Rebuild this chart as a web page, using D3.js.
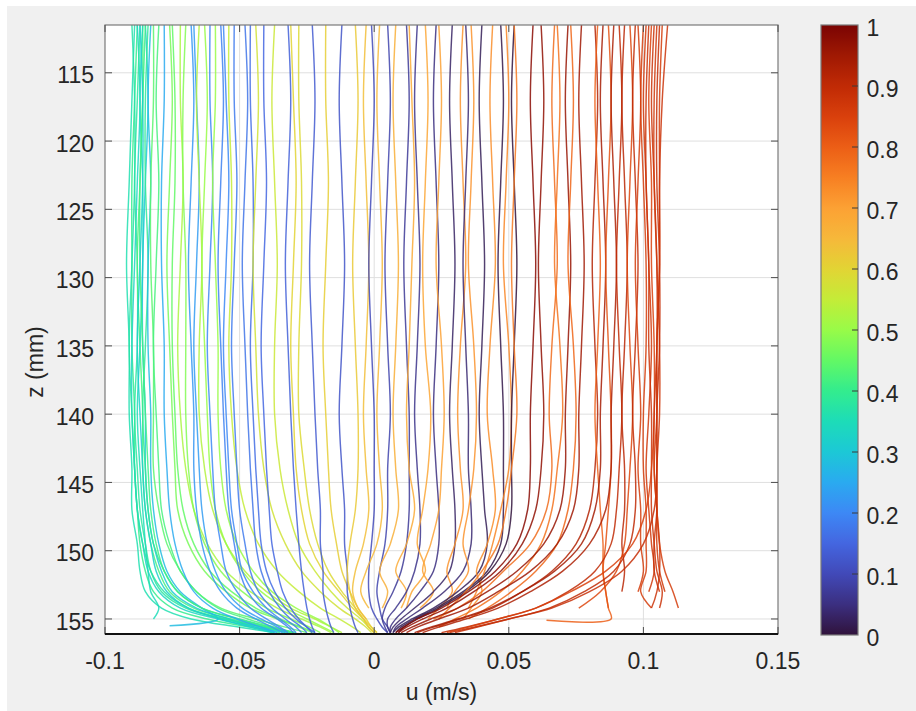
<!DOCTYPE html>
<html>
<head>
<meta charset="utf-8">
<script src="https://cdn.jsdelivr.net/npm/d3@7"></script>
<style>
  html, body { margin: 0; padding: 0; background: #ffffff; }
  svg text { font-family: "Liberation Sans", Arial, Helvetica, sans-serif; fill: #262626; }
</style>
</head>
<body>
<svg id="fig" width="916" height="711"></svg>
<script>
// Depth levels (mm) at which every velocity profile is sampled
const zLevels = [111.5, 117, 123, 129, 135, 140, 144, 147, 149.5, 151.5, 153, 154.2, 155, 155.6, 156];

// Phase of each profile (colour value on the 0–1 colour bar)
const phases = [
  0.36, 0.40, 0.33, 0.38, 0.42, 0.35, 0.30, 0.39, 0.28, 0.44, 0.37, 0.41, 0.32,
  0.42, 0.25, 0.47, 0.45, 0.52, 0.48, 0.22, 0.23, 0.53, 0.50, 0.20, 0.50, 0.19,
  0.20, 0.55, 0.18, 0.17, 0.16, 0.57, 0.15, 0.56, 0.14, 0.60, 0.59, 0.13, 0.61,
  0.12, 0.62, 0.64, 0.10, 0.65, 0.09, 0.67, 0.07, 0.68, 0.06, 0.69, 0.05, 0.70,
  0.03, 0.72, 0.04, 0.72, 0.02, 0.73, 0.01, 0.74, 0.00, 0.76, 0.98, 0.97, 0.78,
  0.77, 0.96, 0.79, 0.95, 0.92, 0.80, 0.94, 0.82, 0.93, 0.90, 0.91, 0.84, 0.90,
  0.86, 0.86, 0.87, 0.88, 0.85, 0.88, 0.87, 0.89, 0.86, 0.88
];

// Streamwise velocity u (mm/s) of each profile at zLevels; null where the record stops
const uProfiles = [
  [-89,-90,-91,-92,-91,-91,-90,-90,-88,-87,-85,-79,-68,-50,-37],
  [-88,-89,-90,-90,-90,-89,-89,-88,-87,-85,-82,-75,-62,-46,-35],
  [-88,-87,-88,-89,-90,-90,-89,-88,-86,-84,-80,-72,-58,-44,-33],
  [-87,-88,-89,-88,-88,-89,-88,-87,-85,-83,-79,-70,-56,-42,-32],
  [-86,-86,-87,-88,-87,-86,-86,-85,-83,-80,-76,-67,-53,-40,-30],
  [-86,-87,-86,-86,-87,-88,-87,-86,-85,-84,-83,-80,-82,null,null],
  [-85,-84,-85,-86,-86,-85,-85,-84,-82,-79,-75,-66,-54,-44,-37],
  [-84,-85,-85,-84,-85,-86,-85,-84,-82,-78,-73,-64,-50,-38,-29],
  [-83,-84,-83,-84,-84,-83,-83,-82,-80,-77,-72,-64,-58,null,null],
  [-82,-82,-83,-83,-82,-82,-82,-80,-77,-72,-66,-57,-44,-33,-25],
  [-90,-89,-89,-90,-91,-90,-89,-88,-86,-83,-78,-69,-55,-41,-31],
  [-85,-86,-87,-87,-86,-85,-84,-83,-81,-78,-73,-64,-51,-39,-30],
  [-87,-86,-86,-87,-88,-87,-86,-85,-83,-81,-77,-69,-57,-46,-38],
  [-80,-81,-80,-81,-82,-81,-80,-79,-76,-72,-66,-58,-47,-37,-30],
  [-78,-78,-79,-79,-78,-78,-77,-76,-74,-71,-67,-60,-51,-42,-36],
  [-76,-75,-76,-77,-76,-75,-74,-73,-69,-63,-55,-46,-36,-28,-23],
  [-75,-74,-74,-75,-75,-74,-73,-71,-67,-61,-53,-44,-35,-27,-22],
  [-72,-72,-71,-72,-73,-72,-70,-67,-62,-55,-46,-36,-27,-20,-16],
  [-70,-71,-71,-70,-70,-70,-69,-67,-63,-57,-49,-40,-31,-24,-20],
  [-68,-67,-68,-69,-68,-67,-67,-66,-64,-61,-57,-51,-44,-38,-34],
  [-67,-66,-65,-66,-67,-66,-65,-64,-62,-59,-55,-49,-42,-36,-33],
  [-65,-66,-65,-64,-65,-65,-63,-60,-55,-48,-40,-31,-22,-16,-12],
  [-63,-62,-63,-64,-63,-62,-61,-59,-55,-49,-42,-33,-25,-19,-15],
  [-61,-61,-60,-61,-62,-61,-60,-59,-57,-55,-51,-46,-40,-35,-32],
  [-59,-59,-60,-59,-58,-58,-57,-55,-51,-45,-38,-29,-21,-16,-13],
  [-57,-56,-57,-58,-57,-56,-55,-54,-52,-50,-47,-42,-36,-32,-30],
  [-56,-55,-54,-55,-56,-55,-54,-53,-51,-49,-45,-40,-35,-31,-29],
  [-54,-54,-53,-53,-54,-53,-51,-48,-43,-36,-28,-20,-13,-8,-5],
  [-52,-52,-51,-52,-53,-52,-51,-50,-48,-46,-43,-38,-33,-29,-27],
  [-48,-47,-48,-49,-48,-47,-46,-45,-44,-42,-39,-35,-31,-27,-25],
  [-46,-46,-45,-45,-46,-45,-44,-43,-42,-40,-37,-33,-29,-25,-22],
  [-44,-43,-44,-45,-44,-43,-41,-38,-33,-27,-20,-13,-7,-3,-1],
  [-41,-41,-40,-41,-42,-41,-40,-39,-38,-36,-34,-31,-28,-25,-23],
  [-37,-38,-37,-36,-37,-37,-35,-32,-28,-22,-16,-10,-5,-2,0],
  [-32,-31,-32,-33,-32,-31,-30,-29,-28,-27,-26,-25,-24,-23,-22],
  [-31,-30,-29,-30,-31,-30,-29,-27,-24,-19,-13,-8,-4,-1,1],
  [-28,-28,-27,-27,-28,-28,-26,-24,-21,-17,-12,-7,-4,-2,0],
  [-23,-22,-23,-24,-23,-22,-21,-20,-20,-19,-19,-18,-17,-16,-15],
  [-18,-18,-17,-18,-19,-18,-17,-16,-14,-12,-9,-6,-3,-1,1],
  [-12,-13,-12,-11,-12,-13,-12,-11,-11,-10,-10,-9,-8,-7,-6],
  [-7,-6,-7,-8,-7,-6,-6,-7,-9,-10,-9,-7,-4,-2,0],
  [-3,-4,-3,-2,-3,-4,-3,-2,-4,-7,-8,-6,-3,null,null],
  [-1,0,-1,-2,-1,0,0,0,-1,-2,-2,-1,1,3,5],
  [2,1,2,3,2,1,2,3,1,-3,-5,-2,null,null,null],
  [5,6,5,4,5,6,5,5,4,2,1,2,3,5,6],
  [8,7,8,9,8,7,8,9,6,2,5,3,null,null,null],
  [12,13,12,11,12,13,13,13,12,10,7,4,3,4,5],
  [13,14,15,14,13,12,13,15,12,8,12,10,null,null,null],
  [16,15,16,17,16,15,16,17,17,15,12,8,5,5,6],
  [19,20,19,18,19,21,20,18,16,19,14,12,null,null,null],
  [23,22,23,24,23,22,23,24,24,22,17,12,8,6,6],
  [24,25,24,23,25,26,25,24,21,18,22,17,null,null,null],
  [29,28,29,30,29,28,29,30,30,28,22,15,10,7,6],
  [33,32,33,34,32,31,32,33,30,27,29,24,20,null,null],
  [34,35,34,33,34,35,35,36,36,33,26,18,12,8,7],
  [36,37,36,35,37,38,37,35,33,35,30,27,null,null,null],
  [40,39,40,41,40,39,40,41,42,39,31,22,14,9,7],
  [44,43,44,45,43,42,44,45,42,38,40,36,33,null,null],
  [47,48,47,46,47,48,48,48,47,42,33,23,15,10,8],
  [49,50,49,48,50,51,50,47,44,41,38,35,null,null,null],
  [52,51,52,53,52,51,51,51,49,43,34,24,16,11,9],
  [52,53,52,51,52,53,51,49,46,40,34,28,24,null,null],
  [59,58,59,60,59,58,58,57,53,45,35,25,16,11,8],
  [62,63,62,61,62,63,62,60,55,47,37,27,18,12,9],
  [67,66,67,68,66,65,66,64,58,48,40,31,22,null,null],
  [68,69,68,67,69,70,68,66,62,55,47,38,30,24,null],
  [72,71,72,73,72,71,71,69,63,53,42,31,21,14,10],
  [73,74,73,72,74,75,74,72,68,60,51,42,35,null,null],
  [77,76,77,78,77,76,76,74,68,58,46,35,24,16,12],
  [82,83,82,81,82,83,82,80,75,66,55,44,32,22,16],
  [83,82,83,84,83,82,83,84,85,85,86,87,88,null,null],
  [85,84,85,86,85,84,84,82,77,67,55,43,31,21,15],
  [87,88,87,86,87,88,88,87,86,85,86,87,null,null,null],
  [89,88,89,90,89,88,88,86,80,70,58,46,34,24,18],
  [91,92,91,90,91,92,91,90,88,82,72,60,46,34,25],
  [93,92,93,94,93,92,93,93,92,93,92,null,null,null,null],
  [95,96,95,94,95,96,95,94,93,90,84,76,null,null,null],
  [97,96,97,98,97,96,97,97,95,89,78,65,50,37,28],
  [98,99,98,97,98,99,98,99,99,100,98,null,null,null,null],
  [100,99,100,101,101,100,100,101,101,101,99,103,null,null,null],
  [101,100,101,102,103,102,101,102,103,104,102,null,null,null,null],
  [102,101,101,102,102,103,103,103,104,105,107,106,null,null,null],
  [103,102,103,103,104,104,103,101,96,86,73,60,46,35,27],
  [104,103,104,105,105,104,104,105,106,106,105,103,null,null,null],
  [105,104,104,105,106,106,105,105,105,106,108,null,null,null,null],
  [106,105,105,106,106,105,105,104,100,92,80,66,50,38,30],
  [107,106,106,106,105,105,104,105,106,108,111,113,null,null,null],
  [109,107,106,106,105,105,105,105,104,104,106,null,null,null,null]
];

// Extra points that close a few records near the bed: [profile index, z (mm), u (mm/s)]
const tailPoints = [
  [8, 155.5, -76],
  [70, 155.1, 64]
];

// Axis ticks and labels
const xTicks = [-0.1, -0.05, 0, 0.05, 0.1, 0.15];
const xTickLabels = ["-0.1", "-0.05", "0", "0.05", "0.1", "0.15"];
const zTicks = [115, 120, 125, 130, 135, 140, 145, 150, 155];
const zTickLabels = ["115", "120", "125", "130", "135", "140", "145", "150", "155"];
const cbTicks = [0, 0.1, 0.2, 0.3, 0.4, 0.5, 0.6, 0.7, 0.8, 0.9, 1];
const cbTickLabels = ["0", "0.1", "0.2", "0.3", "0.4", "0.5", "0.6", "0.7", "0.8", "0.9", "1"];

// Colour map, equally spaced from 0 to 1
const cmapStops = [
  "#30123b", "#3b2f80", "#4149b8", "#4466e0", "#3d88f5", "#2aaaf0", "#1cc8d6",
  "#1ddcb8", "#33ec8e", "#62f865", "#98fb48", "#c4ec38", "#e2d434", "#f6b83a",
  "#fca134", "#f77f22", "#ec5e16", "#d9400c", "#c02a05", "#a01903", "#7a0403"
];

const W = 916, H = 711;
const plot = { l: 105, t: 25, r: 778, b: 634 };
const cb = { l: 821, r: 858, t: 25, b: 635 };
const FONT = 23;

const svg = d3.select("#fig");

// figure background
svg.append("rect").attr("width", W).attr("height", H).attr("fill", "#ffffff");
svg.append("rect").attr("x", 7).attr("y", 6).attr("width", W - 7).attr("height", H - 6).attr("fill", "#f0f0f0");

const x = d3.scaleLinear().domain([-0.1, 0.15]).range([plot.l, plot.r]);
const y = d3.scaleLinear().domain([111.5, 156.1]).range([plot.t, plot.b]);
const colour = d3.piecewise(d3.interpolateRgb, cmapStops);

// axes background
svg.append("rect")
  .attr("x", plot.l).attr("y", plot.t)
  .attr("width", plot.r - plot.l).attr("height", plot.b - plot.t)
  .attr("fill", "#ffffff");

// grid
const grid = svg.append("g").attr("stroke", "#dfdfdf").attr("stroke-width", 1);
grid.selectAll("line.gx").data(xTicks.slice(1, -1)).join("line")
  .attr("x1", d => x(d)).attr("x2", d => x(d))
  .attr("y1", plot.t).attr("y2", plot.b);
grid.selectAll("line.gy").data(zTicks).join("line")
  .attr("x1", plot.l).attr("x2", plot.r)
  .attr("y1", d => y(d)).attr("y2", d => y(d));

// velocity profiles
svg.append("clipPath").attr("id", "plotClip")
  .append("rect")
  .attr("x", plot.l).attr("y", plot.t)
  .attr("width", plot.r - plot.l).attr("height", plot.b - plot.t);

const profiles = uProfiles.map((row, i) => {
  const pts = [];
  row.forEach((u, k) => { if (u !== null) pts.push({ z: zLevels[k], u: u / 1000 }); });
  tailPoints.filter(t => t[0] === i).forEach(t => pts.push({ z: t[1], u: t[2] / 1000 }));
  return { phase: phases[i], pts };
});

const line = d3.line()
  .x(d => x(d.u))
  .y(d => y(d.z))
  .curve(d3.curveCatmullRom.alpha(0.5));

svg.append("g").attr("clip-path", "url(#plotClip)")
  .selectAll("path").data(profiles).join("path")
  .attr("d", d => line(d.pts))
  .attr("fill", "none")
  .attr("stroke", d => colour(d.phase))
  .attr("stroke-width", 1.45)
  .attr("stroke-opacity", 0.85)
  .attr("stroke-linejoin", "round");

// axes box
svg.append("rect")
  .attr("x", plot.l).attr("y", plot.t)
  .attr("width", plot.r - plot.l).attr("height", plot.b - plot.t)
  .attr("fill", "none").attr("stroke", "#7a7a7a").attr("stroke-width", 1.2);

// ticks on all four sides (pointing inward)
const TL = 7;
const ticks = svg.append("g").attr("stroke", "#4d4d4d").attr("stroke-width", 1);
xTicks.forEach(v => {
  ticks.append("line").attr("x1", x(v)).attr("x2", x(v)).attr("y1", plot.b).attr("y2", plot.b - TL);
  ticks.append("line").attr("x1", x(v)).attr("x2", x(v)).attr("y1", plot.t).attr("y2", plot.t + TL);
});
zTicks.forEach(v => {
  ticks.append("line").attr("x1", plot.l).attr("x2", plot.l + TL).attr("y1", y(v)).attr("y2", y(v));
  ticks.append("line").attr("x1", plot.r).attr("x2", plot.r - TL).attr("y1", y(v)).attr("y2", y(v));
});

// bed line along the bottom of the axes
svg.append("line")
  .attr("x1", plot.l).attr("x2", plot.r)
  .attr("y1", plot.b).attr("y2", plot.b)
  .attr("stroke", "#111111").attr("stroke-width", 2.2);

// tick labels
svg.append("g").selectAll("text").data(xTicks).join("text")
  .attr("x", d => x(d)).attr("y", plot.b + 35)
  .attr("text-anchor", "middle").attr("font-size", FONT)
  .text((d, i) => xTickLabels[i]);

svg.append("g").selectAll("text").data(zTicks).join("text")
  .attr("x", plot.l - 11).attr("y", d => y(d) + 10.7)
  .attr("text-anchor", "end").attr("font-size", FONT)
  .text((d, i) => zTickLabels[i]);

// axis titles
svg.append("text")
  .attr("x", (plot.l + plot.r) / 2).attr("y", 700)
  .attr("text-anchor", "middle").attr("font-size", FONT)
  .text("u (m/s)");

svg.append("text")
  .attr("transform", "translate(43,362) rotate(-90)")
  .attr("text-anchor", "middle").attr("font-size", FONT)
  .text("z (mm)");

// colour bar
const cbScale = d3.scaleLinear().domain([0, 1]).range([cb.b, cb.t]);
const grad = svg.append("defs").append("linearGradient")
  .attr("id", "cbGrad").attr("x1", 0).attr("y1", 1).attr("x2", 0).attr("y2", 0);
const nStops = 101;
d3.range(nStops).forEach(k => {
  const t = k / (nStops - 1);
  grad.append("stop").attr("offset", t).attr("stop-color", colour(t));
});
svg.append("rect")
  .attr("x", cb.l).attr("y", cb.t)
  .attr("width", cb.r - cb.l).attr("height", cb.b - cb.t)
  .attr("fill", "url(#cbGrad)")
  .attr("stroke", "#7a7a7a").attr("stroke-width", 1.2);

const cbt = svg.append("g");
cbt.selectAll("line").data(cbTicks.slice(1, -1)).join("line")
  .attr("x1", cb.r).attr("x2", cb.r - 6)
  .attr("y1", d => cbScale(d)).attr("y2", d => cbScale(d))
  .attr("stroke", "#3a3a3a").attr("stroke-width", 1);
cbt.selectAll("text").data(cbTicks).join("text")
  .attr("x", cb.r + 8.5).attr("y", d => cbScale(d) + 10.7)
  .attr("text-anchor", "start").attr("font-size", FONT)
  .text((d, i) => cbTickLabels[i]);
</script>
</body>
</html>
